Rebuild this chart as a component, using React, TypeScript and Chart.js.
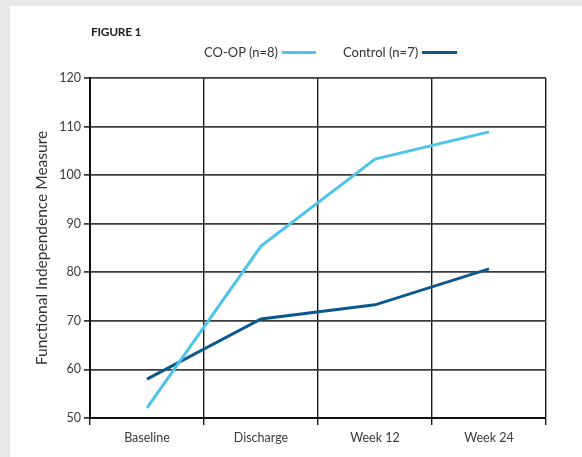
import React, { useEffect, useRef } from "react";
import { Chart, registerables } from "chart.js";

Chart.register(...registerables);

const categories = ["Baseline", "Discharge", "Week 12", "Week 24"];
const coopValues = [52.1, 85.4, 103.3, 108.9];
const controlValues = [58.0, 70.4, 73.3, 80.7];
const coopLabel = "CO-OP (n=8)";
const controlLabel = "Control (n=7)";
const yAxisTitle = "Functional Independence Measure";
const figureTitle = "FIGURE 1";
const yMin = 50;
const yMax = 120;
const yStep = 10;

const COOP_COLOR = "#4fc4ea";
const CONTROL_COLOR = "#0c5a8d";
const FONT = "Lato, 'Open Sans', sans-serif";

export default function App() {
  const canvasRef = useRef<HTMLCanvasElement | null>(null);

  useEffect(() => {
    const prevMargin = document.body.style.margin;
    document.body.style.margin = "0";
    const ctx = canvasRef.current;
    if (!ctx) return;
    const chart = new Chart(ctx, {
      type: "line",
      data: {
        labels: categories,
        datasets: [
          {
            label: coopLabel,
            data: coopValues,
            borderColor: COOP_COLOR,
            backgroundColor: COOP_COLOR,
            borderWidth: 3,
            pointRadius: 0,
            tension: 0,
          },
          {
            label: controlLabel,
            data: controlValues,
            borderColor: CONTROL_COLOR,
            backgroundColor: CONTROL_COLOR,
            borderWidth: 3,
            pointRadius: 0,
            tension: 0,
          },
        ],
      },
      options: {
        animation: false,
        responsive: true,
        maintainAspectRatio: false,
        layout: { padding: { left: 0, top: 78, right: 36, bottom: 0 } },
        plugins: {
          legend: { display: false },
          title: { display: false },
          tooltip: { enabled: false },
        },
        scales: {
          x: {
            type: "category",
            offset: true,
            grid: {
              offset: true,
              color: "#1a1a1a",
              lineWidth: 1.4,
              tickLength: 7,
              drawTicks: true,
            },
            border: { color: "#111", width: 2 },
            ticks: {
              color: "#3a3a3a",
              font: { family: FONT, size: 12.5 },
              padding: 5,
            },
            afterFit: (scale: any) => {
              scale.height = 39;
            },
          },
          y: {
            min: yMin,
            max: yMax,
            ticks: {
              stepSize: yStep,
              color: "#3a3a3a",
              font: { family: FONT, size: 12.5 },
              padding: 3,
            },
            grid: {
              color: "#3c3c3c",
              lineWidth: 1.8,
              tickLength: 6,
            },
            border: { color: "#111", width: 2 },
            title: {
              display: true,
              text: yAxisTitle,
              color: "#333",
              font: { family: FONT, size: 15.5 },
              padding: { top: 33, bottom: 0 },
            },
            afterFit: (scale: any) => {
              scale.width = 90;
            },
          },
        },
      },
    });
    return () => {
      chart.destroy();
      document.body.style.margin = prevMargin;
    };
  }, []);

  const legendText: React.CSSProperties = {
    position: "absolute",
    top: 44,
    height: 16,
    lineHeight: "16px",
    fontFamily: FONT,
    fontSize: 13,
    color: "#333",
    whiteSpace: "nowrap",
  };

  return (
    <div
      style={{
        position: "absolute",
        left: 0,
        top: 0,
        width: 582,
        height: 457,
        background: "#e6e7e8",
        overflow: "hidden",
      }}
    >
      <div
        style={{
          position: "absolute",
          left: 10,
          top: 6,
          width: 572,
          height: 451,
          background: "#ffffff",
        }}
      />
      <div style={{ position: "absolute", left: 0, top: 0, width: 582, height: 457 }}>
        <canvas ref={canvasRef} />
      </div>
      <div
        style={{
          position: "absolute",
          left: 91,
          top: 24,
          height: 16,
          lineHeight: "16px",
          fontFamily: FONT,
          fontSize: 12,
          fontWeight: 700,
          letterSpacing: "-0.3px",
          color: "#222",
        }}
      >
        {figureTitle}
      </div>
      <div style={{ ...legendText, left: 204 }}>{coopLabel}</div>
      <div
        style={{
          position: "absolute",
          left: 282,
          top: 51,
          width: 34,
          height: 3,
          background: COOP_COLOR,
        }}
      />
      <div style={{ ...legendText, left: 343 }}>{controlLabel}</div>
      <div
        style={{
          position: "absolute",
          left: 422,
          top: 51,
          width: 35,
          height: 3,
          background: CONTROL_COLOR,
        }}
      />
    </div>
  );
}
